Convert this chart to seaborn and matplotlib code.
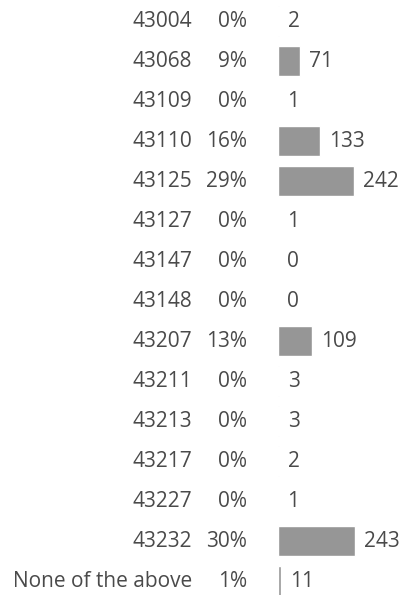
import pandas as pd
import seaborn as sns
import matplotlib.pyplot as plt

labels = ["43004", "43068", "43109", "43110", "43125", "43127", "43147", "43148",
          "43207", "43211", "43213", "43217", "43227", "43232", "None of the above"]
counts = [2, 71, 1, 133, 242, 1, 0, 0, 109, 3, 3, 2, 1, 243, 11]
percents = ["0%", "9%", "0%", "16%", "29%", "0%", "0%", "0%",
            "13%", "0%", "0%", "0%", "0%", "30%", "1%"]

df = pd.DataFrame({"label": labels, "count": counts, "pct": percents})

sns.set_theme(style="white")
plt.rcParams["font.family"] = ["Open Sans", "DejaVu Sans"]
text_color = "#4a4a4a"
fs = 15

fig = plt.figure(figsize=(4.03, 5.95), dpi=100)
# bars start at x=278px; 0.315 px per count
ax = fig.add_axes([278 / 403, 0, 125 / 403, 1])
sns.barplot(data=df, x="count", y="label", color="#969696", width=0.75,
            saturation=1, ax=ax, orient="h")
ax.set_xlim(0, 125 / 0.315)
ax.set_ylim(14 + 14 / 40, -21 / 40)
ax.set_axis_off()

for i, row in df.iterrows():
    ax.annotate(row["label"], xy=(0, i), xycoords=("data", "data"),
                xytext=(-86 / 1.389, 0), textcoords="offset points",
                ha="right", va="center", fontsize=fs, color=text_color)
    ax.annotate(row["pct"], xy=(0, i), xycoords=("data", "data"),
                xytext=(-31 / 1.389, 0), textcoords="offset points",
                ha="right", va="center", fontsize=fs, color=text_color)
    ax.annotate(str(row["count"]), xy=(row["count"], i),
                xytext=(9 / 1.389, 0), textcoords="offset points",
                ha="left", va="center", fontsize=fs, color=text_color)

fig.savefig("out.png", dpi=100)
